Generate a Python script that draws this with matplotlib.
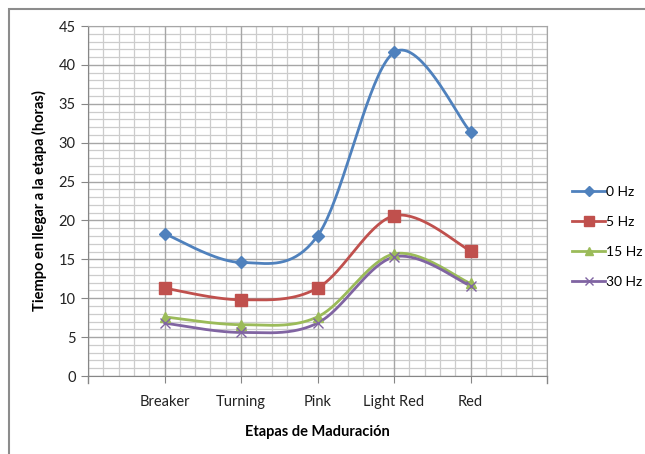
import numpy as np
import matplotlib.pyplot as plt
from matplotlib.patches import Rectangle
from matplotlib.ticker import MultipleLocator, FixedLocator

plt.rcParams['font.family'] = ['Lato', 'DejaVu Sans']

stages = ["Breaker", "Turning", "Pink", "Light Red", "Red"]
hz0 = [18.3, 14.6, 18.0, 41.6, 31.4]
hz5 = [11.3, 9.8, 11.3, 20.6, 16.1]
hz15 = [7.6, 6.6, 7.6, 15.7, 11.9]
hz30 = [6.8, 5.6, 6.8, 15.3, 11.6]
labels = ["0 Hz", "5 Hz", "15 Hz", "30 Hz"]


def smooth(x, y, n=40):
    # bezier smoothing similar to spreadsheet "smoothed line"
    x = np.asarray(x, float)
    y = np.asarray(y, float)
    px = np.concatenate([[x[0]], x, [x[-1]]])
    py = np.concatenate([[y[0]], y, [y[-1]]])
    xs, ys = [], []
    t = np.linspace(0, 1, n)
    for i in range(len(x) - 1):
        p0 = np.array([px[i + 1], py[i + 1]])
        p3 = np.array([px[i + 2], py[i + 2]])
        c1 = p0 + (np.array([px[i + 2], py[i + 2]]) - np.array([px[i], py[i]])) / 6
        c2 = p3 - (np.array([px[i + 3], py[i + 3]]) - np.array([px[i + 1], py[i + 1]])) / 6
        b = ((1 - t) ** 3)[:, None] * p0 + (3 * (1 - t) ** 2 * t)[:, None] * c1 \
            + (3 * (1 - t) * t ** 2)[:, None] * c2 + (t ** 3)[:, None] * p3
        xs.extend(b[:, 0])
        ys.extend(b[:, 1])
    return np.array(xs), np.array(ys)


fig = plt.figure(figsize=(6.45, 4.54), dpi=100)
ax = fig.add_axes([88 / 645, 1 - 376 / 454, 459 / 645, 350 / 454])

x = np.arange(1, len(stages) + 1)
series = [hz0, hz5, hz15, hz30]
colors = ["#4F81BD", "#C0504D", "#9BBB59", "#8064A2"]
markers = ["D", "s", "^", "x"]
msizes = [6, 8.5, 7.5, 7]

for vals, c, m, ms, lab in zip(series, colors, markers, msizes, labels):
    sx, sy = smooth(x, vals)
    ax.plot(sx, sy, color=c, lw=2.0, zorder=3, solid_capstyle='round')
    ax.plot(x, vals, linestyle='none', marker=m, ms=ms, color=c, mec=c, mew=1.0, zorder=4)
    ax.plot([], [], color=c, lw=2.0, marker=m, ms=ms * 0.85, mec=c, label=lab)

ax.set_xlim(0, 6)
ax.set_ylim(0, 45)
ax.xaxis.set_major_locator(FixedLocator(x))
ax.set_xticklabels(stages)
ax.xaxis.set_minor_locator(MultipleLocator(0.2))
ax.yaxis.set_major_locator(MultipleLocator(5))
ax.yaxis.set_minor_locator(MultipleLocator(1))

# vertical major lines at integer positions (incl. boundaries)
for v in range(0, 7):
    ax.axvline(v, color="#a6a6a6", lw=1.0, zorder=1)
ax.grid(which='major', axis='y', color="#a6a6a6", lw=1.0, zorder=1)
ax.grid(which='minor', color="#cccccc", lw=0.9, zorder=0)
ax.set_axisbelow(True)

for s in ["top", "right"]:
    ax.spines[s].set_color("#a6a6a6")
for s in ["left", "bottom"]:
    ax.spines[s].set_color("#868686")

ax.tick_params(which='major', length=5, color="#868686", labelsize=10.5, labelcolor="#222222")
ax.tick_params(which='minor', length=0)
ax.tick_params(axis='x', pad=9)
ax.tick_params(axis='y', pad=4)
# extra ticks at the axis ends
for v in [0, 6]:
    ax.plot([v, v], [0, -0.9], color="#868686", lw=1.0, clip_on=False)

ax.set_ylabel("Tiempo en llegar a la etapa (horas)", fontsize=10.5, fontweight='bold', labelpad=8)
ax.set_xlabel("Etapas de Maduración", fontsize=10.5, fontweight='bold', labelpad=11)

ax.legend(loc='upper left', bbox_to_anchor=(572 / 645, 1 - 186 / 454), bbox_transform=fig.transFigure,
          frameon=False, fontsize=10, handlelength=2.4, handletextpad=0.05, labelspacing=1.3,
          borderaxespad=0, borderpad=0)

fig.patches.append(Rectangle((9 / 645, -0.1), 1.1, 1 - 9 / 454 + 0.1, transform=fig.transFigure,
                             fill=False, edgecolor="#8c8c8c", lw=1.5))

fig.savefig("out.png", dpi=100)
